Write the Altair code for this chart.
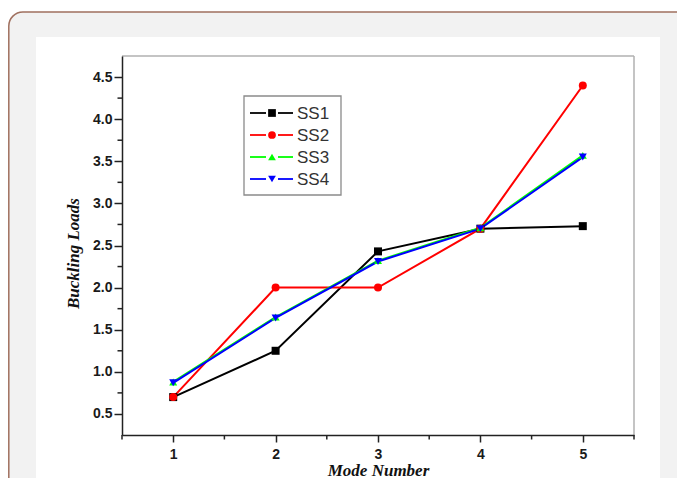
import altair as alt
import pandas as pd

modes = [1, 2, 3, 4, 5]
series = ["SS1", "SS2", "SS3", "SS4"]
ss1 = [0.70, 1.25, 2.43, 2.70, 2.73]
ss2 = [0.70, 2.00, 2.00, 2.70, 4.40]
ss3 = [0.88, 1.65, 2.32, 2.71, 3.57]
ss4 = [0.87, 1.64, 2.31, 2.70, 3.55]
colors = ["#000000", "#ff0000", "#00ff00", "#0000ff"]
shapes = ["square", "circle", "triangle-up", "triangle-down"]
y_major = [0.5, 1.0, 1.5, 2.0, 2.5, 3.0, 3.5, 4.0, 4.5]
y_minor = [0.75, 1.25, 1.75, 2.25, 2.75, 3.25, 3.75, 4.25]
x_major = [1, 2, 3, 4, 5]
x_minor = [0.5, 1.5, 2.5, 3.5, 4.5, 5.5]

rows = []
for name, vals in zip(series, [ss1, ss2, ss3, ss4]):
    for m, v in zip(modes, vals):
        rows.append({"mode": m, "load": v, "series": name})
df = pd.DataFrame(rows)

W, H = 512, 379
xscale = alt.Scale(domain=[0.5, 5.5], nice=False, zero=False)
yscale = alt.Scale(domain=[0.25, 4.75], nice=False, zero=False)
cscale = alt.Scale(domain=series, range=colors)
sscale = alt.Scale(domain=series, range=shapes)

one = alt.Data(values=[{"a": 1}])

card = alt.Chart(one).mark_rect(
    fill="#f2f2f2", stroke="#a0705f", strokeWidth=1.5, cornerRadius=14
).encode(x=alt.value(-113.2), x2=alt.value(620), y=alt.value(-44), y2=alt.value(520))

panel = alt.Chart(one).mark_rect(fill="white").encode(
    x=alt.value(-86), x2=alt.value(538), y=alt.value(-19), y2=alt.value(520)
)

frame_top = alt.Chart(one).mark_rule(color="#b0b0b0", strokeWidth=1.5).encode(
    x=alt.value(0), x2=alt.value(W), y=alt.value(0)
)
frame_right = alt.Chart(one).mark_rule(color="#b0b0b0", strokeWidth=1.5).encode(
    x=alt.value(W), y=alt.value(0), y2=alt.value(H)
)

ymin_df = pd.DataFrame({"load": y_minor})
xmin_df = pd.DataFrame({"mode": x_minor})

xaxis = alt.Axis(
    values=x_major, format="d", title="Mode Number", grid=False,
    tickSize=7, tickWidth=1.5, tickColor="#222", domainColor="#222", domainWidth=1.5,
    labelFont="Liberation Sans", labelFontWeight="bold", labelFontSize=14, labelColor="#1a1a1a",
    labelPadding=5, titleFont="Liberation Serif", titleFontStyle="italic",
    titleFontWeight="bold", titleFontSize=17, titleColor="#111", titlePadding=1, zindex=1,
)
yaxis = alt.Axis(
    values=y_major, format=".1f", title="Buckling Loads", grid=False,
    tickSize=8, tickWidth=1.5, tickColor="#222", domainColor="#222", domainWidth=1.5,
    labelFont="Liberation Sans", labelFontWeight="bold", labelFontSize=14, labelColor="#1a1a1a",
    labelPadding=2, titleFont="Liberation Serif", titleFontStyle="italic",
    titleFontWeight="bold", titleFontSize=17, titleColor="#111", titlePadding=10,
    titleY=197, zindex=1,
)

base = alt.Chart(df)
lines = base.mark_line(strokeWidth=2).encode(
    x=alt.X("mode:Q", scale=xscale, axis=xaxis),
    y=alt.Y("load:Q", scale=yscale, axis=yaxis),
    color=alt.Color("series:N", scale=cscale, legend=None),
    order=alt.Order("mode:Q"),
)
points = base.mark_point(filled=True, opacity=1, size=64).encode(
    x=alt.X("mode:Q", scale=xscale, axis=xaxis),
    y=alt.Y("load:Q", scale=yscale, axis=yaxis),
    color=alt.Color("series:N", scale=cscale, legend=None),
    shape=alt.Shape("series:N", scale=sscale, legend=None),
)

y_minor_ticks = alt.Chart(ymin_df).mark_rule(color="#222", strokeWidth=1.5).encode(
    y=alt.Y("load:Q", scale=yscale, axis=yaxis), x=alt.value(-4.5), x2=alt.value(0)
)
x_minor_ticks = alt.Chart(xmin_df).mark_rule(color="#222", strokeWidth=1.5).encode(
    x=alt.X("mode:Q", scale=xscale, axis=xaxis), y=alt.value(H), y2=alt.value(H + 4.5)
)

# manual legend
legend_layers = [
    alt.Chart(one).mark_rect(fill="white", stroke="#8a8a8a", strokeWidth=1.3).encode(
        x=alt.value(122), x2=alt.value(219), y=alt.value(40), y2=alt.value(139)
    )
]
row_y = [57, 79, 101, 123]
for name, col, shp, ry in zip(series, colors, shapes, row_y):
    legend_layers.append(alt.Chart(one).mark_rule(color=col, strokeWidth=1.8).encode(
        x=alt.value(128), x2=alt.value(144), y=alt.value(ry)))
    legend_layers.append(alt.Chart(one).mark_rule(color=col, strokeWidth=1.8).encode(
        x=alt.value(156), x2=alt.value(171), y=alt.value(ry)))
    legend_layers.append(alt.Chart(one).mark_point(
        filled=True, opacity=1, size=60, shape=shp, color=col).encode(
        x=alt.value(150), y=alt.value(ry)))
    legend_layers.append(alt.Chart(one).mark_text(
        text=name, align="left", baseline="middle", font="Liberation Sans",
        fontSize=17, color="#333").encode(x=alt.value(175), y=alt.value(ry + 1)))

chart = alt.layer(
    card, panel, frame_top, frame_right, lines, points,
    y_minor_ticks, x_minor_ticks, *legend_layers
).properties(
    width=W, height=H,
    padding={"left": 114, "top": 48, "right": 43, "bottom": 43},
    autosize=alt.AutoSizeParams(type="none"),
    background="white",
).configure_view(stroke=None)

chart.save("out.html", embed_options={"renderer": "svg", "actions": False})
